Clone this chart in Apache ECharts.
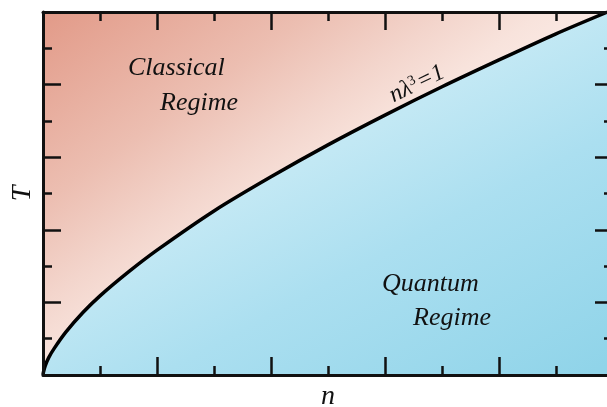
<!DOCTYPE html>
<html>
<head>
<meta charset="utf-8">
<script src="https://cdn.jsdelivr.net/npm/echarts@6/dist/echarts.min.js"></script>
<style>
  html, body { margin: 0; padding: 0; background: #ffffff; }
  #chart { width: 607px; height: 407px; }
</style>
</head>
<body>
<div id="chart"></div>
<script>
// Boundary n·λ³ = 1 between the classical and quantum regimes (T against n)
const densityN = [0, 0.004, 0.02, 0.05, 0.1, 0.2, 0.35, 0.5, 0.75, 1.0, 1.5, 2.0, 2.5, 3.0, 3.5, 4.0, 4.5, 4.95];
const temperatureT = [0, 0.04, 0.13, 0.24, 0.37, 0.59, 0.86, 1.09, 1.42, 1.72, 2.26, 2.73, 3.17, 3.58, 3.97, 4.34, 4.70, 5.0];

const axisMin = 0;
const axisMax = 5;
const axisStep = 1;

const serif = '"Liberation Serif", "DejaVu Serif", serif';
const ink = '#111111';

const boundary = densityN.map((n, i) => [n, temperatureT[i]]);

const chart = echarts.init(document.getElementById('chart'), null, { renderer: 'canvas' });

function frameAxis(extra) {
  return Object.assign({
    type: 'value',
    min: axisMin,
    max: axisMax,
    interval: axisStep,
    z: 10,
    axisLine: { show: true, onZero: false, lineStyle: { color: ink, width: 3 } },
    axisTick: { show: true, inside: true, length: 18, lineStyle: { color: ink, width: 2.5 } },
    minorTick: { show: true, splitNumber: 2, length: 9, lineStyle: { color: ink, width: 2.5 } },
    axisLabel: { show: false },
    splitLine: { show: false },
    minorSplitLine: { show: false }
  }, extra);
}

const nameStyle = { fontFamily: serif, fontStyle: 'italic', fontSize: 28, color: ink };
const regimeStyle = { fontFamily: serif, fontStyle: 'italic', fontSize: 26, fill: ink };

chart.setOption({
  animation: false,
  backgroundColor: '#ffffff',
  grid: {
    left: 43,
    top: 12,
    right: -6,
    bottom: 32,
    containLabel: false,
    outerBoundsMode: 'none',
    show: true,
    borderWidth: 0,
    backgroundColor: new echarts.graphic.LinearGradient(0, 0, 0.45, 1, [
      { offset: 0, color: '#e29a88' },
      { offset: 0.35, color: '#ecbeb1' },
      { offset: 0.53, color: '#f3d5cc' },
      { offset: 0.65, color: '#f8e3dc' },
      { offset: 0.8, color: '#fcede9' },
      { offset: 1, color: '#fdf4f1' }
    ])
  },
  xAxis: [
    frameAxis({ position: 'bottom', name: 'n', nameLocation: 'middle', nameGap: 8, nameTextStyle: nameStyle }),
    frameAxis({ position: 'top' })
  ],
  yAxis: [
    frameAxis({ position: 'left', name: 'T', nameLocation: 'middle', nameGap: 6, nameRotate: 90, nameTextStyle: nameStyle }),
    frameAxis({ position: 'right' })
  ],
  series: [{
    type: 'line',
    xAxisIndex: 0,
    yAxisIndex: 0,
    data: boundary,
    smooth: 0.3,
    showSymbol: false,
    z: 3,
    lineStyle: { color: '#000000', width: 3.5 },
    areaStyle: {
      origin: 'start',
      opacity: 1,
      color: new echarts.graphic.LinearGradient(0, 0, 0.48, 1.4, [
        { offset: 0, color: '#d8f1f9' },
        { offset: 0.45, color: '#c2e8f4' },
        { offset: 0.65, color: '#abdff0' },
        { offset: 1, color: '#90d4e9' }
      ])
    }
  }],
  graphic: [
    { type: 'text', left: 128, top: 55, z: 20, style: Object.assign({ text: 'Classical' }, regimeStyle) },
    { type: 'text', left: 160, top: 90, z: 20, style: Object.assign({ text: 'Regime' }, regimeStyle) },
    { type: 'text', left: 382, top: 271, z: 20, style: Object.assign({ text: 'Quantum' }, regimeStyle) },
    { type: 'text', left: 413, top: 305, z: 20, style: Object.assign({ text: 'Regime' }, regimeStyle) },
    {
      type: 'text',
      x: 417, y: 84,
      rotation: 26 * Math.PI / 180,
      z: 20,
      style: {
        text: '{a|nλ}{s|3}{a|=1}',
        align: 'center',
        verticalAlign: 'middle',
        fill: ink,
        rich: {
          a: { fontFamily: serif, fontStyle: 'italic', fontSize: 24, fill: ink, verticalAlign: 'bottom' },
          s: { fontFamily: serif, fontSize: 14, fill: ink, verticalAlign: 'top', padding: [0, 1, 9, 0] }
        }
      }
    }
  ]
});
</script>
</body>
</html>
